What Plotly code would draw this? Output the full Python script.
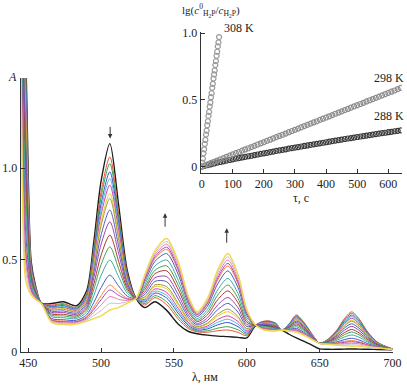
import plotly.graph_objects as go

# ---------------- data: main spectra ----------------
wavelength_nm = [445, 448, 450, 452, 455, 459, 466, 474, 483, 490, 495, 500, 506, 512, 518,
                 524, 530, 537, 545, 553, 560, 566, 573, 580, 587, 594, 600, 606, 611, 615,
                 620, 624, 629, 634, 639, 645, 650, 656, 662, 667, 672, 677, 683, 690, 700]

spectrum_01 = [2.40, 1.75, 0.95, 0.49, 0.36,
               0.265, 0.262, 0.272, 0.250, 0.330,
               0.600, 0.930, 1.133, 0.800, 0.440,
               0.290, 0.240, 0.272, 0.225, 0.150,
               0.110, 0.098, 0.090, 0.085, 0.082,
               0.078, 0.075, 0.140, 0.145, 0.140,
               0.130, 0.118, 0.095, 0.075, 0.058,
               0.035, 0.015, 0.013, 0.013, 0.014,
               0.015, 0.014, 0.013, 0.012, 0.010]
spectrum_02 = [2.332, 1.642, 0.901, 0.476, 0.354,
               0.265, 0.254, 0.262, 0.242, 0.317,
               0.566, 0.871, 1.060, 0.755, 0.426,
               0.290, 0.254, 0.294, 0.256, 0.177,
               0.125, 0.108, 0.106, 0.114, 0.118,
               0.105, 0.087, 0.145, 0.165, 0.168,
               0.155, 0.118, 0.152, 0.200, 0.162,
               0.094, 0.046, 0.070, 0.120, 0.180,
               0.217, 0.180, 0.108, 0.050, 0.015]
spectrum_03 = [2.298, 1.588, 0.877, 0.468, 0.351,
               0.265, 0.250, 0.257, 0.238, 0.310,
               0.550, 0.842, 1.024, 0.733, 0.419,
               0.290, 0.262, 0.305, 0.272, 0.191,
               0.133, 0.112, 0.114, 0.128, 0.136,
               0.119, 0.094, 0.145, 0.163, 0.166,
               0.153, 0.118, 0.150, 0.196, 0.159,
               0.093, 0.046, 0.069, 0.116, 0.174,
               0.209, 0.174, 0.104, 0.049, 0.015]
spectrum_04 = [2.256, 1.521, 0.846, 0.459, 0.347,
               0.265, 0.245, 0.251, 0.233, 0.302,
               0.529, 0.805, 0.979, 0.705, 0.410,
               0.290, 0.271, 0.319, 0.292, 0.208,
               0.142, 0.118, 0.124, 0.146, 0.159,
               0.136, 0.101, 0.145, 0.161, 0.163,
               0.151, 0.118, 0.148, 0.191, 0.155,
               0.091, 0.046, 0.067, 0.112, 0.166,
               0.199, 0.165, 0.100, 0.047, 0.015]
spectrum_05 = [2.222, 1.467, 0.822, 0.452, 0.344,
               0.265, 0.241, 0.246, 0.229, 0.295,
               0.512, 0.776, 0.943, 0.682, 0.403,
               0.290, 0.278, 0.330, 0.307, 0.221,
               0.150, 0.123, 0.132, 0.160, 0.177,
               0.150, 0.108, 0.145, 0.159, 0.160,
               0.149, 0.118, 0.146, 0.187, 0.152,
               0.090, 0.046, 0.066, 0.108, 0.159,
               0.191, 0.159, 0.096, 0.046, 0.015]
spectrum_06 = [2.188, 1.413, 0.798, 0.445, 0.341,
               0.265, 0.237, 0.241, 0.225, 0.289,
               0.495, 0.746, 0.907, 0.660, 0.396,
               0.290, 0.285, 0.342, 0.323, 0.235,
               0.158, 0.128, 0.140, 0.175, 0.195,
               0.164, 0.114, 0.145, 0.157, 0.158,
               0.147, 0.118, 0.145, 0.182, 0.149,
               0.089, 0.046, 0.064, 0.104, 0.153,
               0.182, 0.152, 0.093, 0.044, 0.015]
spectrum_07 = [2.145, 1.345, 0.767, 0.436, 0.338,
               0.265, 0.231, 0.235, 0.220, 0.281,
               0.474, 0.710, 0.861, 0.632, 0.388,
               0.290, 0.294, 0.355, 0.342, 0.252,
               0.167, 0.134, 0.150, 0.193, 0.218,
               0.181, 0.122, 0.145, 0.154, 0.155,
               0.145, 0.118, 0.142, 0.177, 0.145,
               0.087, 0.046, 0.063, 0.100, 0.145,
               0.172, 0.144, 0.088, 0.043, 0.015]
spectrum_08 = [2.120, 1.305, 0.749, 0.431, 0.335,
               0.265, 0.228, 0.231, 0.217, 0.276,
               0.461, 0.687, 0.834, 0.615, 0.382,
               0.290, 0.299, 0.364, 0.354, 0.262,
               0.173, 0.137, 0.156, 0.204, 0.232,
               0.191, 0.126, 0.145, 0.153, 0.153,
               0.144, 0.118, 0.141, 0.174, 0.142,
               0.086, 0.046, 0.062, 0.097, 0.140,
               0.166, 0.139, 0.085, 0.042, 0.015]
spectrum_09 = [2.060, 1.210, 0.706, 0.418, 0.330,
               0.265, 0.221, 0.222, 0.210, 0.264,
               0.432, 0.636, 0.771, 0.576, 0.370,
               0.290, 0.312, 0.383, 0.381, 0.286,
               0.186, 0.146, 0.170, 0.229, 0.263,
               0.215, 0.137, 0.145, 0.149, 0.149,
               0.140, 0.118, 0.138, 0.167, 0.137,
               0.084, 0.046, 0.060, 0.090, 0.129,
               0.152, 0.128, 0.079, 0.040, 0.014]
spectrum_10 = [2.000, 1.116, 0.663, 0.405, 0.325,
               0.265, 0.214, 0.214, 0.203, 0.252,
               0.403, 0.585, 0.707, 0.537, 0.358,
               0.290, 0.325, 0.403, 0.409, 0.310,
               0.199, 0.154, 0.184, 0.254, 0.295,
               0.239, 0.148, 0.145, 0.146, 0.145,
               0.137, 0.118, 0.135, 0.160, 0.132,
               0.082, 0.046, 0.057, 0.084, 0.117,
               0.138, 0.116, 0.073, 0.037, 0.014]
spectrum_11 = [1.933, 1.008, 0.615, 0.391, 0.319,
               0.265, 0.206, 0.204, 0.195, 0.239,
               0.369, 0.526, 0.635, 0.492, 0.344,
               0.290, 0.339, 0.425, 0.440, 0.337,
               0.215, 0.164, 0.200, 0.283, 0.331,
               0.266, 0.160, 0.145, 0.142, 0.140,
               0.134, 0.118, 0.132, 0.152, 0.125,
               0.079, 0.046, 0.055, 0.077, 0.104,
               0.121, 0.103, 0.066, 0.035, 0.014]
spectrum_12 = [1.873, 0.913, 0.572, 0.378, 0.314,
               0.264, 0.199, 0.195, 0.188, 0.228,
               0.340, 0.474, 0.571, 0.453, 0.332,
               0.290, 0.352, 0.444, 0.467, 0.361,
               0.228, 0.172, 0.214, 0.308, 0.363,
               0.290, 0.171, 0.145, 0.139, 0.136,
               0.130, 0.118, 0.129, 0.144, 0.120,
               0.077, 0.046, 0.052, 0.070, 0.093,
               0.107, 0.092, 0.059, 0.032, 0.013]
spectrum_13 = [1.805, 0.805, 0.523, 0.364, 0.308,
               0.264, 0.191, 0.185, 0.180, 0.215,
               0.306, 0.416, 0.499, 0.408, 0.318,
               0.290, 0.366, 0.467, 0.499, 0.388,
               0.243, 0.181, 0.230, 0.336, 0.399,
               0.317, 0.184, 0.145, 0.135, 0.132,
               0.127, 0.118, 0.125, 0.136, 0.114,
               0.075, 0.045, 0.050, 0.063, 0.080,
               0.091, 0.079, 0.052, 0.030, 0.013]
spectrum_14 = [1.729, 0.684, 0.468, 0.348, 0.301,
               0.264, 0.181, 0.174, 0.171, 0.200,
               0.268, 0.349, 0.417, 0.358, 0.302,
               0.290, 0.382, 0.492, 0.534, 0.419,
               0.260, 0.192, 0.248, 0.369, 0.440,
               0.348, 0.198, 0.145, 0.130, 0.126,
               0.123, 0.118, 0.121, 0.127, 0.106,
               0.072, 0.045, 0.047, 0.054, 0.066,
               0.073, 0.064, 0.044, 0.027, 0.013]
spectrum_15 = [1.678, 0.603, 0.432, 0.337, 0.296,
               0.264, 0.175, 0.167, 0.165, 0.190,
               0.243, 0.305, 0.363, 0.324, 0.291,
               0.290, 0.393, 0.508, 0.557, 0.439,
               0.272, 0.199, 0.260, 0.390, 0.467,
               0.369, 0.207, 0.145, 0.127, 0.123,
               0.120, 0.118, 0.119, 0.121, 0.102,
               0.070, 0.045, 0.045, 0.049, 0.056,
               0.061, 0.054, 0.039, 0.025, 0.013]
spectrum_16 = [1.652, 0.562, 0.413, 0.332, 0.294,
               0.264, 0.172, 0.163, 0.162, 0.185,
               0.230, 0.283, 0.336, 0.307, 0.286,
               0.290, 0.398, 0.517, 0.569, 0.449,
               0.277, 0.203, 0.266, 0.401, 0.481,
               0.379, 0.211, 0.145, 0.126, 0.121,
               0.118, 0.118, 0.117, 0.117, 0.099,
               0.069, 0.045, 0.044, 0.046, 0.051,
               0.054, 0.050, 0.036, 0.024, 0.013]
spectrum_17 = [1.618, 0.508, 0.389, 0.324, 0.291,
               0.263, 0.168, 0.158, 0.158, 0.178,
               0.214, 0.254, 0.300, 0.285, 0.279,
               0.290, 0.406, 0.528, 0.585, 0.463,
               0.285, 0.208, 0.274, 0.415, 0.499,
               0.393, 0.218, 0.145, 0.124, 0.119,
               0.117, 0.118, 0.116, 0.113, 0.096,
               0.068, 0.045, 0.043, 0.042, 0.045,
               0.046, 0.043, 0.032, 0.023, 0.012]
spectrum_18 = [1.584, 0.454, 0.364, 0.317, 0.288,
               0.263, 0.164, 0.153, 0.154, 0.172,
               0.197, 0.224, 0.263, 0.262, 0.272,
               0.290, 0.413, 0.539, 0.600, 0.476,
               0.292, 0.212, 0.282, 0.430, 0.517,
               0.406, 0.224, 0.145, 0.122, 0.116,
               0.115, 0.118, 0.114, 0.109, 0.093,
               0.066, 0.045, 0.041, 0.039, 0.038,
               0.038, 0.036, 0.029, 0.021, 0.012]
spectrum_19 = [1.55, 0.40, 0.34, 0.31, 0.285,
               0.263, 0.160, 0.148, 0.150, 0.165,
               0.180, 0.195, 0.227, 0.240, 0.265,
               0.290, 0.420, 0.550, 0.616, 0.490,
               0.300, 0.217, 0.290, 0.444, 0.535,
               0.420, 0.230, 0.145, 0.120, 0.114,
               0.113, 0.118, 0.112, 0.105, 0.090,
               0.065, 0.045, 0.040, 0.035, 0.032,
               0.030, 0.030, 0.025, 0.020, 0.012]

spectra = [spectrum_01, spectrum_02, spectrum_03, spectrum_04, spectrum_05, spectrum_06,
           spectrum_07, spectrum_08, spectrum_09, spectrum_10, spectrum_11, spectrum_12,
           spectrum_13, spectrum_14, spectrum_15, spectrum_16, spectrum_17, spectrum_18,
           spectrum_19]
for s in spectra:
    assert len(s) == len(wavelength_nm), len(s)

# ---------------- data: inset kinetics ----------------
time_308K = [0, 2, 4, 6, 8, 10, 12, 14, 16, 18, 20, 22, 24, 26, 28, 30, 32, 34, 36, 38,
             40, 42, 44, 46, 48, 50, 52, 54, 56]
lg_308K = [0.00, 0.03, 0.06, 0.10, 0.13, 0.17, 0.20, 0.24, 0.27, 0.31, 0.34, 0.38, 0.41,
           0.45, 0.48, 0.52, 0.55, 0.59, 0.62, 0.66, 0.69, 0.72, 0.76, 0.79, 0.83, 0.86,
           0.90, 0.93, 0.97]

time_long = [0, 10, 20, 30, 40, 50, 60, 70, 80, 90, 100, 110, 120, 130, 140, 150, 160,
             170, 180, 190, 200, 210, 220, 230, 240, 250, 260, 270, 280, 290, 300, 310,
             320, 330, 340, 350, 360, 370, 380, 390, 400, 410, 420, 430, 440, 450, 460,
             470, 480, 490, 500, 510, 520, 530, 540, 550, 560, 570, 580, 590, 600, 610,
             620, 630, 640]
lg_298K = [0.000, 0.009, 0.018, 0.028, 0.037, 0.046, 0.055, 0.064, 0.074, 0.083, 0.092,
           0.101, 0.110, 0.120, 0.129, 0.138, 0.147, 0.156, 0.166, 0.175, 0.184, 0.193,
           0.202, 0.212, 0.221, 0.230, 0.239, 0.248, 0.258, 0.267, 0.276, 0.285, 0.294,
           0.304, 0.313, 0.322, 0.331, 0.340, 0.350, 0.359, 0.368, 0.377, 0.386, 0.396,
           0.405, 0.414, 0.423, 0.432, 0.442, 0.451, 0.460, 0.469, 0.478, 0.488, 0.497,
           0.506, 0.515, 0.524, 0.534, 0.543, 0.552, 0.561, 0.570, 0.580, 0.589]
lg_288K = [0.000, 0.006, 0.012, 0.018, 0.024, 0.030, 0.035, 0.040, 0.045, 0.050, 0.055,
           0.060, 0.064, 0.069, 0.073, 0.078, 0.082, 0.087, 0.091, 0.096, 0.100, 0.104,
           0.109, 0.113, 0.118, 0.122, 0.126, 0.130, 0.135, 0.139, 0.143, 0.147, 0.151,
           0.155, 0.159, 0.163, 0.167, 0.171, 0.175, 0.179, 0.183, 0.187, 0.191, 0.195,
           0.199, 0.203, 0.207, 0.211, 0.214, 0.218, 0.222, 0.226, 0.229, 0.233, 0.236,
           0.240, 0.244, 0.247, 0.251, 0.254, 0.258, 0.261, 0.265, 0.268, 0.272]

main_ticks = [450, 500, 550, 600, 650, 700]
main_yticks = [0, 0.5, 1.0]
main_yticklabels = ["0", "0.5", "1.0"]
inset_ticks = [0, 100, 200, 300, 400, 500, 600]

# ---------------- styles ----------------
colors = ["#1c1c1c", "#e8553a", "#3da04c", "#3c50c8", "#4fb8e6", "#d6419a",
          "#e6cf2e", "#9c9c3e", "#5858b8", "#9848b0", "#a8382a", "#44a054",
          "#3fa8a0", "#4858c4", "#f08838", "#a444b8", "#e87ab8", "#c4c4c4", "#f0d850"]

FONT = "Liberation Serif, Times New Roman, serif"
W, H = 407, 387

fig = go.Figure()
for i, (s, c) in enumerate(zip(spectra, colors)):
    width = 1.4 if i == 0 else (1.4 if i == len(spectra) - 1 else 1.0)
    fig.add_trace(go.Scatter(x=wavelength_nm, y=s, mode="lines",
                             line=dict(color=c, width=width, shape="spline", smoothing=0.8),
                             xaxis="x", yaxis="y", showlegend=False, hoverinfo="skip"))

fig.add_trace(go.Scatter(x=time_long, y=lg_288K, mode="markers",
                         marker=dict(symbol="circle-open", size=5, color="#3a3a3a",
                                     line=dict(width=1.2)),
                         xaxis="x2", yaxis="y2", showlegend=False))
fig.add_trace(go.Scatter(x=time_long, y=lg_298K, mode="markers",
                         marker=dict(symbol="circle-open", size=5, color="#8c8c8c",
                                     line=dict(width=1.2)),
                         xaxis="x2", yaxis="y2", showlegend=False))
fig.add_trace(go.Scatter(x=time_308K, y=lg_308K, mode="markers",
                         marker=dict(symbol="circle-open", size=5, color="#9a9a9a",
                                     line=dict(width=1.2)),
                         xaxis="x2", yaxis="y2", showlegend=False))

axis_common = dict(showline=True, linecolor="#333", linewidth=1, ticks="inside",
                   ticklen=4, tickcolor="#333", showgrid=False, zeroline=False,
                   automargin=False,
                   tickfont=dict(family=FONT, size=12, color="#222"), mirror=False)

def px_x(p):
    return p / W

def px_y(p):
    return 1 - p / H

fig.update_layout(
    template="none",
    width=W, height=H, autosize=False,
    margin=dict(l=0, r=0, t=0, b=0, pad=0),
    paper_bgcolor="white", plot_bgcolor="rgba(0,0,0,0)",
    xaxis=dict(range=[444.8, 700], domain=[px_x(20.7), px_x(392.5)], anchor="y",
               tickvals=main_ticks, **axis_common),
    yaxis=dict(range=[0, 1.49], domain=[px_y(351.7), px_y(78)], anchor="x",
               tickvals=main_yticks, ticktext=main_yticklabels, **axis_common),
    xaxis2=dict(range=[-3, 643], domain=[px_x(200.7), px_x(401.7)], anchor="y2",
                tickvals=inset_ticks, **axis_common),
    yaxis2=dict(range=[-0.045, 1.01], domain=[px_y(172.7), px_y(31.7)], anchor="x2",
                tickvals=main_yticks, ticktext=main_yticklabels, **axis_common),
)

ann_font = dict(family=FONT, size=12, color="#222")

def label(text, x, y, xanchor="center", size=12):
    return dict(text=text, x=px_x(x), y=px_y(y), xref="paper", yref="paper",
                xanchor=xanchor, yanchor="middle", showarrow=False,
                font=dict(family=FONT, size=size, color="#222"))

annotations = [
    label("<i>A</i>", 12, 77),
    label("λ, нм", 205, 377),
    label("τ, с", 301, 198),
    label("lg(<i>c</i><sup>0</sup><sub>H<sub>2</sub>P</sub>/<i>c</i><sub>H<sub>2</sub>P</sub>)",
          180, 11, xanchor="left", size=11),
    label("308 K", 239, 28),
    label("298 K", 389, 78),
    label("288 K", 389, 116),
]
for (lam, yhead, ay) in [(506.2, 1.161, -13), (543.9, 0.754, 15), (586.2, 0.672, 16)]:
    annotations.append(dict(x=lam, y=yhead, xref="x", yref="y", ax=0, ay=ay,
                            showarrow=True, arrowhead=2, arrowsize=0.9, arrowwidth=1,
                            arrowcolor="#333", text=""))
fig.update_layout(annotations=annotations)

fig.write_html("out.html",
               config={"displayModeBar": False},
               post_script="document.body.style.margin='0px';"
                           "document.body.style.padding='0px';"
                           "document.body.style.overflow='hidden';")
